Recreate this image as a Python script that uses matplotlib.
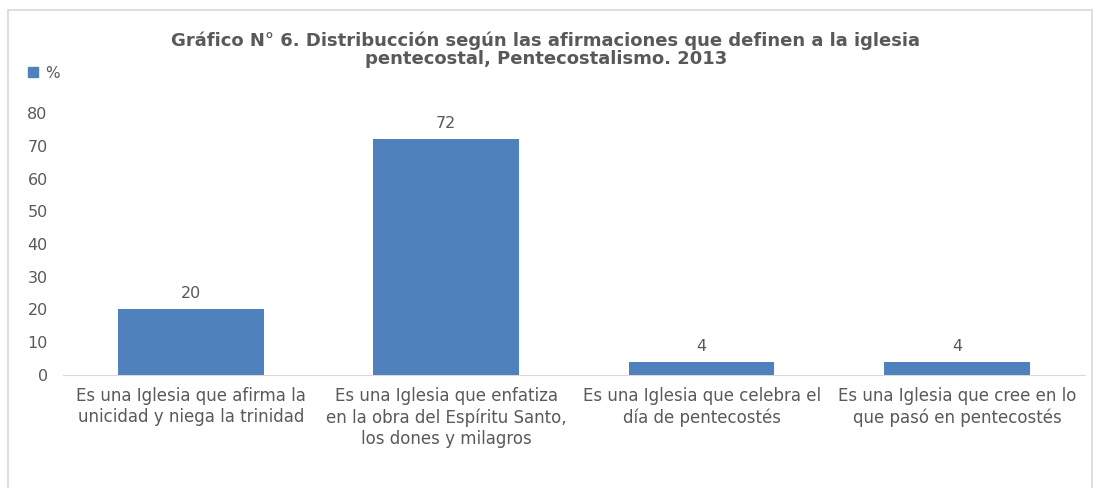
import matplotlib.pyplot as plt
from matplotlib.patches import Rectangle, Patch

categorias = [
    "Es una Iglesia que afirma la\nunicidad y niega la trinidad",
    "Es una Iglesia que enfatiza\nen la obra del Espíritu Santo,\nlos dones y milagros",
    "Es una Iglesia que celebra el\ndía de pentecostés",
    "Es una Iglesia que cree en lo\nque pasó en pentecostés",
]
porcentajes = [20, 72, 4, 4]
yticks = [0, 10, 20, 30, 40, 50, 60, 70, 80]

fuente = ['Liberation Sans Narrow', 'DejaVu Sans']
plt.rcParams['font.family'] = fuente
gris = '#595959'
azul = '#4f81bd'

fig = plt.figure(figsize=(10.98, 4.88), dpi=100)
ax = fig.add_axes([0.0574, 0.2316, 0.9306, 0.5368])

x = range(len(categorias))
barras = ax.bar(x, porcentajes, width=0.57, color=azul, zorder=2)
for b, v in zip(barras, porcentajes):
    ax.text(b.get_x() + b.get_width() / 2, v + 2.5, str(v), ha='center',
            va='bottom', fontsize=11.5, color=gris, family='DejaVu Sans')

ax.set_xlim(-0.5, len(categorias) - 0.5)
ax.set_ylim(0, 80)
ax.set_yticks(yticks)
ax.set_yticklabels([str(t) for t in yticks], family='DejaVu Sans')
ax.set_xticks(list(x))
ax.set_xticklabels(categorias, fontsize=12, color=gris, linespacing=1.2)
ax.tick_params(axis='y', length=0, pad=11, labelsize=11.5, labelcolor=gris)
ax.tick_params(axis='x', length=0, pad=9)
for s in ['top', 'right', 'left']:
    ax.spines[s].set_visible(False)
ax.spines['bottom'].set_color('#d9d9d9')
ax.spines['bottom'].set_zorder(1)

fig.text(0.497, 0.898,
         "Gráfico N° 6. Distribucción según las afirmaciones que definen a la iglesia\n"
         "pentecostal, Pentecostalismo. 2013",
         ha='center', va='center', fontsize=13, fontweight='bold', color=gris,
         linespacing=1.0)

leg = fig.legend(handles=[Patch(color=azul, label='%')], loc='center left',
                 bbox_to_anchor=(0.013, 0.85), frameon=False, fontsize=11,
                 handlelength=0.65, handleheight=0.65, handletextpad=0.5)
for t in leg.get_texts():
    t.set_color(gris)

# marco del gráfico
fig.patches.append(Rectangle((8 / 1098, -0.05), 1084 / 1098, 1 - 10 / 488 + 0.05,
                             transform=fig.transFigure, fill=False,
                             edgecolor='#d9d9d9', lw=1.2))

fig.savefig('out.png', dpi=100)
